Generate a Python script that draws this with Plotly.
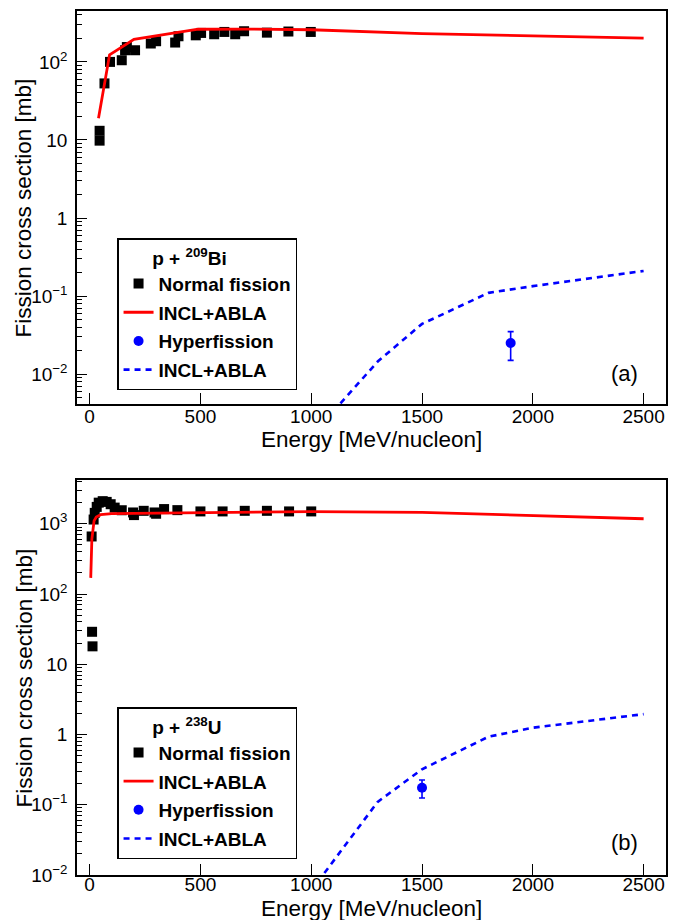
import plotly.graph_objects as go

# ---- p + 209Bi ----
bi_fis_e = [45, 45, 67, 92, 145, 160, 168, 205, 276, 300, 386, 401, 479, 503,
            562, 608, 657, 697, 800, 897, 998]
bi_fis_xs = [13.1, 9.8, 53, 100, 105, 141, 155, 141, 172, 184, 177, 213, 219, 235,
             226, 242, 226, 247, 237, 245, 242]
bi_incl_e = [40, 90, 200, 394, 490, 700, 1000, 1500, 2000, 2500]
bi_incl_xs = [19, 123, 195, 235, 262, 263, 258, 230, 214, 202]
bi_hyp_e = [1900]
bi_hyp_xs = [0.025]
bi_hyp_err = [0.01]
bi_hyp_incl_e = [1000, 1300, 1500, 1800, 2000, 2500]
bi_hyp_incl_xs = [0.0016, 0.0145, 0.044, 0.11, 0.134, 0.21]

# ---- p + 238U ----
u_fis_e = [9, 11, 13, 18, 23, 32, 41, 59, 77, 95, 113, 145, 196, 200, 244, 293,
           300, 336, 396, 500, 600, 700, 800, 900, 1000]
u_fis_xs = [660, 29, 18, 1150, 1430, 1740, 2000, 2100, 2050, 1900, 1700, 1560, 1450,
            1330, 1530, 1450, 1390, 1620, 1565, 1500, 1500, 1530, 1530, 1500, 1500]
u_incl_e = [5, 10, 20, 30, 50, 100, 200, 500, 1000, 1500, 2000, 2500]
u_incl_xs = [170, 600, 1100, 1250, 1350, 1400, 1410, 1450, 1490, 1450, 1320, 1180]
u_hyp_e = [1500]
u_hyp_xs = [0.175]
u_hyp_err = [0.05]
u_hyp_incl_e = [1000, 1300, 1500, 1800, 2000, 2500]
u_hyp_incl_xs = [0.006, 0.11, 0.32, 0.93, 1.25, 1.95]

energy_ticks = [0, 500, 1000, 1500, 2000, 2500]

FONT = "Liberation Sans"
BLUE = "#0000ff"
RED = "#ff0000"


def panel_traces(xa, ya, leg, fe, fx, ie, ix, he, hx, herr, hie, hix):
    return [
        go.Scatter(x=fe, y=fx, xaxis=xa, yaxis=ya, mode="markers", name="Normal fission",
                   legend=leg, legendgroup=leg + "a",
                   marker=dict(symbol="square", size=10, color="black")),
        go.Scatter(x=ie, y=ix, xaxis=xa, yaxis=ya, mode="lines", name="INCL+ABLA",
                   legend=leg, legendgroup=leg + "b",
                   line=dict(color=RED, width=2.8)),
        go.Scatter(x=he, y=hx, xaxis=xa, yaxis=ya, mode="markers", name="Hyperfission",
                   legend=leg, legendgroup=leg + "c",
                   marker=dict(symbol="circle", size=10, color=BLUE),
                   error_y=dict(type="data", array=herr, color=BLUE, thickness=1.6, width=3)),
        go.Scatter(x=hie, y=hix, xaxis=xa, yaxis=ya, mode="lines", name="INCL+ABLA",
                   legend=leg, legendgroup=leg + "d",
                   line=dict(color=BLUE, width=2.6, dash="6px,5px")),
    ]


fig = go.Figure()
for t in panel_traces("x", "y", "legend", bi_fis_e, bi_fis_xs, bi_incl_e, bi_incl_xs,
                      bi_hyp_e, bi_hyp_xs, bi_hyp_err, bi_hyp_incl_e, bi_hyp_incl_xs):
    fig.add_trace(t)
for t in panel_traces("x2", "y2", "legend2", u_fis_e, u_fis_xs, u_incl_e, u_incl_xs,
                      u_hyp_e, u_hyp_xs, u_hyp_err, u_hyp_incl_e, u_hyp_incl_xs):
    fig.add_trace(t)


def sup(n):
    if n < 0:
        return "10<sup>\u2212%d</sup>" % (-n)
    if n > 1:
        return "10<sup>%d</sup>" % n
    return "10" if n == 1 else "1"


def log_axis(lo, hi, domain, anchor):
    majors = [10.0 ** n for n in range(lo, hi + 1)]
    minors = [k * 10.0 ** n for n in range(lo - 1, hi + 1) for k in range(2, 10)]
    return dict(type="log", domain=domain, anchor=anchor,
                tickvals=majors, ticktext=[sup(n) for n in range(lo, hi + 1)],
                ticks="inside", ticklen=10, tickwidth=1.2, tickcolor="black",
                minor=dict(tickvals=minors, ticks="inside", ticklen=5, tickwidth=1,
                           tickcolor="black"),
                showline=True, mirror=True, linecolor="black", linewidth=1.5,
                showgrid=False, zeroline=False, ticklabelstandoff=4,
                tickfont=dict(family=FONT, size=19, color="black"))


def lin_axis(anchor, standoff):
    return dict(range=[-57, 2601], anchor=anchor, domain=[0, 1],
                tickvals=energy_ticks, ticks="inside", ticklen=11, tickwidth=1.2,
                tickcolor="black", showline=True, mirror=True, linecolor="black",
                linewidth=1.5, showgrid=False, zeroline=False,
                ticklabelstandoff=standoff,
                tickfont=dict(family=FONT, size=19, color="black"))


ya = log_axis(-2, 2, [0.545, 1.0], "x")
ya["range"] = [-2.384, 2.652]
yb = log_axis(-2, 3, [0.0, 0.4573], "x2")
yb["range"] = [-2.0, 3.625]

legend_common = dict(x=0.068, xanchor="left", yanchor="top", bgcolor="white",
                     bordercolor="black", borderwidth=1.5, tracegroupgap=1,
                     font=dict(family=FONT, size=19, color="black", weight="bold"))
pad = "\u00a0" * 6

fig.update_layout(
    width=683, height=920,
    margin=dict(l=77, r=17, t=9, b=45),
    plot_bgcolor="white", paper_bgcolor="white",
    xaxis=lin_axis("y", -6), xaxis2=lin_axis("y2", -9),
    yaxis=ya, yaxis2=yb,
    legend=dict(y=0.7367, title=dict(text=pad + "p + <sup>209</sup>Bi",
                                     font=dict(family=FONT, size=19, weight="bold")),
                **legend_common),
    legend2=dict(y=0.194, title=dict(text=pad + "p + <sup>238</sup>U",
                                     font=dict(family=FONT, size=19, weight="bold")),
                 **legend_common),
)

ann_font = dict(family=FONT, size=22.5, color="black")
for ytitle in (0.7725, 0.2286):
    fig.add_annotation(text="Fission cross section [mb]", xref="paper", yref="paper",
                       x=-0.09, y=ytitle, textangle=-90, showarrow=False,
                       xanchor="center", yanchor="middle", font=ann_font)
for xtitle in (0.5035, -0.0385):
    fig.add_annotation(text="Energy [MeV/nucleon]", xref="paper", yref="paper",
                       x=0.5, y=xtitle, showarrow=False, xanchor="center",
                       yanchor="middle", font=ann_font)
for label, ylab in (("(a)", 0.5808), ("(b)", 0.0381)):
    fig.add_annotation(text=label, xref="paper", yref="paper", x=0.930, y=ylab,
                       showarrow=False, xanchor="center", yanchor="middle",
                       font=dict(family=FONT, size=22, color="black"))

fig.write_html("out.html")
